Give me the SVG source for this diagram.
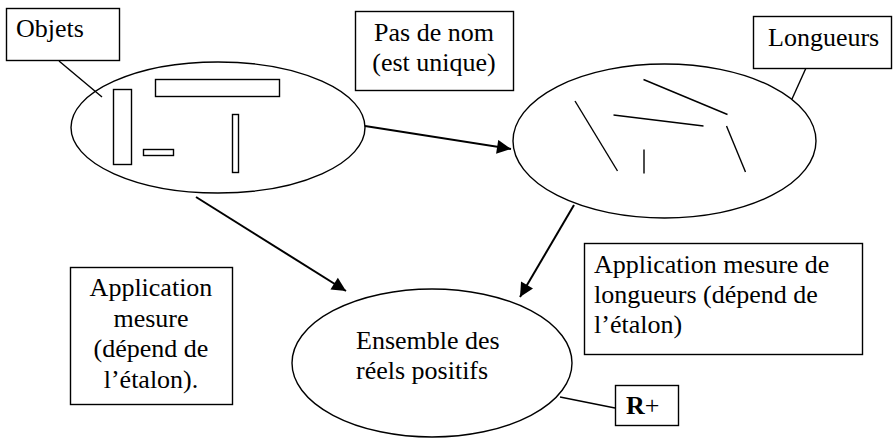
<svg xmlns="http://www.w3.org/2000/svg" width="893" height="439" viewBox="0 0 893 439">
<defs>
<style>
.s{fill:none;stroke:#000;stroke-width:1.4}
.box{fill:#fff;stroke:#000;stroke-width:1.4}
.c{fill:none;stroke:#000;stroke-width:2}
.t{font-family:"Liberation Serif","Times New Roman",serif;font-size:26px;fill:#000}
.m{text-anchor:middle}
</style>
<marker id="ah" viewBox="0 0 10 10" refX="10" refY="5" markerWidth="8" markerHeight="7" markerUnits="strokeWidth" orient="auto">
<path d="M0,0 L10,5 L0,10 z" fill="#000"/>
</marker>
</defs>
<rect width="893" height="439" fill="#fff"/>

<g id="connectors">
<line class="c" x1="365" y1="126" x2="511" y2="149" marker-end="url(#ah)"/>
<line class="c" x1="196" y1="197" x2="346" y2="291" marker-end="url(#ah)"/>
<line class="c" x1="574" y1="205" x2="520" y2="297" marker-end="url(#ah)"/>
</g>

<g id="objets-ensemble">
<ellipse class="s" cx="218" cy="127.5" rx="147" ry="65.5"/>
<rect class="s" x="113.5" y="89.5" width="18" height="75"/>
<rect class="s" x="155.5" y="79.5" width="124" height="17"/>
<rect class="s" x="143.5" y="149.5" width="30" height="6"/>
<rect class="s" x="232.5" y="114.5" width="6" height="58"/>
</g>

<g id="objets-label">
<line class="s" x1="59" y1="61" x2="102" y2="97"/>
<rect class="box" x="6.5" y="8.5" width="113" height="52"/>
<text class="t" x="16" y="37">Objets</text>
</g>

<g id="pas-de-nom">
<rect class="box" x="355.5" y="11.5" width="158" height="79"/>
<text class="t m" x="434" y="41">Pas de nom</text>
<text class="t m" x="434" y="71">(est unique)</text>
</g>

<g id="longueurs-ensemble">
<ellipse class="s" cx="664.5" cy="141" rx="151.5" ry="77"/>
<line class="s" x1="575" y1="101" x2="617.5" y2="171"/>
<line class="s" x1="643.5" y1="79.5" x2="727.5" y2="114.5"/>
<line class="s" x1="613.5" y1="115" x2="703.5" y2="126"/>
<line class="s" x1="726.5" y1="126" x2="745.5" y2="172"/>
<line class="s" x1="644" y1="149.5" x2="644" y2="173.5"/>
</g>

<g id="longueurs-label">
<line class="s" x1="806" y1="68" x2="792" y2="99"/>
<rect class="box" x="753.5" y="16.5" width="138" height="52"/>
<text class="t" x="768" y="46">Longueurs</text>
</g>

<g id="reels-positifs">
<ellipse class="s" cx="432" cy="363" rx="140" ry="74"/>
<text class="t" x="356" y="349">Ensemble des</text>
<text class="t" x="356" y="379">réels positifs</text>
</g>

<g id="application-mesure">
<rect class="box" x="70.5" y="267.5" width="162" height="137"/>
<text class="t m" x="151" y="296">Application</text>
<text class="t m" x="151" y="327">mesure</text>
<text class="t m" x="151" y="357">(dépend de</text>
<text class="t m" x="151" y="388">l’étalon).</text>
</g>

<g id="application-longueurs">
<rect class="box" x="584.5" y="243.5" width="278" height="111"/>
<text class="t" x="594" y="273">Application mesure de</text>
<text class="t" x="594" y="303">longueurs (dépend de</text>
<text class="t" x="594" y="333">l’étalon)</text>
</g>

<g id="r-plus">
<line class="s" x1="560" y1="397" x2="615" y2="408"/>
<rect class="box" x="615.5" y="385.5" width="63" height="40"/>
<text class="t" x="626" y="414"><tspan font-weight="bold">R</tspan>+</text>
</g>
</svg>
